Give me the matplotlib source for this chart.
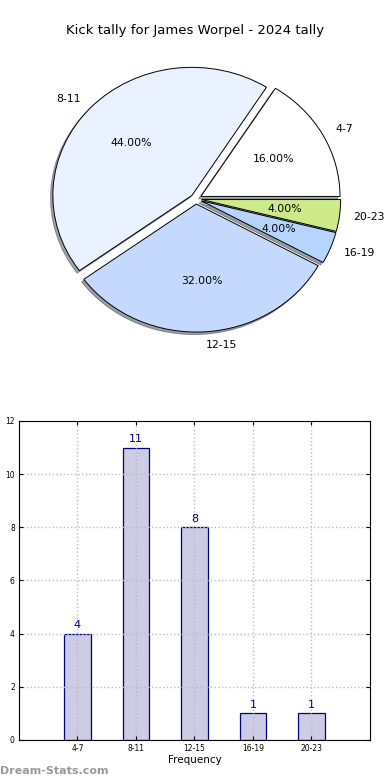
import matplotlib
matplotlib.use("Agg")
import matplotlib.pyplot as plt
import numpy as np

labels = ["4-7", "8-11", "12-15", "16-19", "20-23"]
counts = [4, 11, 8, 1, 1]
pie_colors = ["#ffffff", "#eaf1ff", "#c5d9ff", "#b5d5ff", "#ccea88"]
title = "Kick tally for James Worpel - 2024 tally"

fig = plt.figure(figsize=(3.9, 7.8), dpi=100)

# pie (top)
ax1 = fig.add_axes([0.0746, 0.548, 0.856, 0.394])
wedges, texts, autotexts = ax1.pie(
    counts, labels=labels, colors=pie_colors, explode=[0.04] * len(counts),
    autopct="%1.2f%%", shadow=dict(ox=-0.012, oy=-0.014, alpha=0.5), startangle=0,
    wedgeprops=dict(edgecolor="black", linewidth=0.7),
    textprops=dict(fontsize=7.8),
)
ax1.set_aspect("auto")
ax1.set_xlim(-1.2, 1.2)
ax1.set_ylim(-1.2, 1.2)
fig.text(0.5, 0.961, title, ha="center", va="center", fontsize=9.5)

# bar chart (bottom)
ax2 = fig.add_axes([0.0487, 0.0513, 0.9, 0.409])
x = np.arange(len(labels))
ax2.bar(x, counts, width=0.45, color="#ccccE4", edgecolor="#000080", linewidth=0.9, zorder=1)
for xi, c in zip(x, counts):
    ax2.text(xi, c + 0.12, str(c), ha="center", va="bottom", fontsize=8, color="#000080")
ax2.set_xlim(-1, 5)
ax2.set_ylim(0, 12)
ax2.set_yticks(range(0, 13, 2))
ax2.set_xticks(x)
ax2.set_xticklabels(labels)
ax2.tick_params(direction="in", labelsize=5.5, top=True, right=True, length=3, pad=3)
ax2.grid(True, linestyle=":", color="#bbbbbb", linewidth=1.0)
ax2.set_axisbelow(False)
for sp in ax2.spines.values():
    sp.set_zorder(4)
ax2.set_xlabel("Frequency", fontsize=7.5, labelpad=1)
ax2.set_ylabel("Stat Interval", fontsize=7.5)
ax2.yaxis.set_label_coords(-0.045, 0.5)

fig.text(0.0, 0.012, "Dream-Stats.com", fontsize=8, color="#999999", fontweight="bold", ha="left", va="center")

fig.savefig("out.png", dpi=100)
